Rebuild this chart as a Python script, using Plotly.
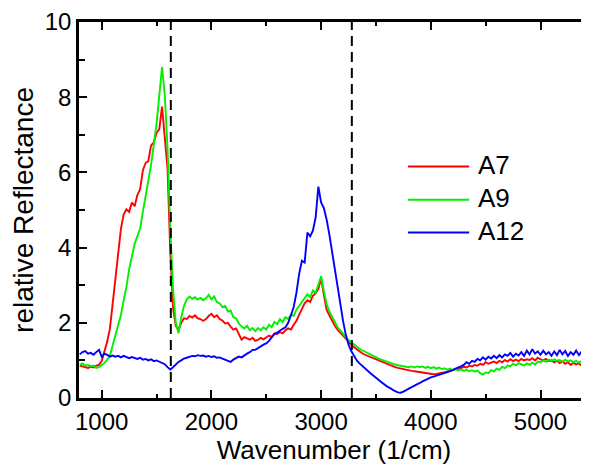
import plotly.graph_objects as go

# Sampling grid of the spectra (cm^-1)
wavenumber = list(range(800, 5451, 25))

a7 = [
    0.86, 0.84, 0.82, 0.80, 0.83, 0.81, 0.86, 0.88,
    0.98, 1.22, 1.50, 1.85, 2.55, 3.20, 3.95, 4.50,
    4.88, 5.02, 4.95, 5.20, 5.10, 5.40, 5.55, 6.05,
    6.25, 6.30, 6.72, 6.80, 7.05, 7.15, 7.75, 7.00,
    6.10, 3.90, 2.40, 1.92, 1.82, 2.00, 2.12, 2.10,
    2.18, 2.14, 2.20, 2.12, 2.10, 2.05, 2.10, 2.18,
    2.24, 2.15, 2.20, 2.10, 2.06, 1.98, 2.00, 1.90,
    1.82, 1.85, 1.70, 1.55, 1.62, 1.58, 1.55, 1.60,
    1.52, 1.55, 1.60, 1.56, 1.62, 1.66, 1.62, 1.72,
    1.70, 1.75, 1.72, 1.80, 1.85, 1.82, 1.95, 2.05,
    2.22, 2.35, 2.52, 2.60, 2.55, 2.72, 2.78, 2.90,
    3.18, 2.75, 2.35, 2.20, 2.05, 1.92, 1.82, 1.74,
    1.65, 1.56, 1.48, 1.42, 1.35, 1.29, 1.24, 1.19,
    1.15, 1.12, 1.08, 1.04, 1.01, 0.98, 0.95, 0.92,
    0.89, 0.87, 0.84, 0.82, 0.80, 0.78, 0.76, 0.75,
    0.73, 0.72, 0.71, 0.70, 0.68, 0.67, 0.66, 0.65,
    0.64, 0.63, 0.64, 0.65, 0.66, 0.68, 0.70, 0.72,
    0.74, 0.77, 0.76, 0.80, 0.83, 0.81, 0.86, 0.84,
    0.88, 0.86, 0.91, 0.88, 0.95, 0.91, 0.94, 0.97,
    0.93, 0.99, 0.95, 1.01, 0.97, 1.03, 0.98, 1.02,
    0.98, 1.04, 1.00, 1.03, 1.01, 1.06, 1.00, 1.07,
    1.03, 1.00, 1.04, 0.98, 1.00, 0.95, 0.99, 0.93,
    0.97, 0.91, 0.95, 0.88, 0.94, 0.89, 0.92, 0.86,
    0.91, 0.87, 0.90,
]

a9 = [
    0.89, 0.92, 0.86, 0.88, 0.84, 0.86, 0.80, 0.82,
    0.88, 0.93, 1.02, 1.12, 1.40, 1.68, 1.92, 2.20,
    2.60, 2.95, 3.42, 3.80, 4.10, 4.30, 4.50, 4.95,
    5.35, 5.85, 6.20, 6.75, 7.30, 8.05, 8.80, 8.05,
    6.65, 4.50, 2.90, 2.00, 1.72, 2.15, 2.45, 2.62,
    2.70, 2.64, 2.68, 2.62, 2.66, 2.60, 2.65, 2.74,
    2.62, 2.70, 2.55, 2.52, 2.42, 2.45, 2.30, 2.33,
    2.15, 2.12, 1.98, 1.90, 1.85, 1.92, 1.80, 1.86,
    1.78, 1.86, 1.80, 1.88, 1.82, 1.95, 1.88, 2.02,
    1.96, 2.10, 2.02, 2.15, 2.10, 2.22, 2.18, 2.35,
    2.45, 2.55, 2.68, 2.76, 2.68, 2.86, 2.80, 3.05,
    3.24, 2.85, 2.50, 2.30, 2.15, 2.00, 1.88, 1.80,
    1.70, 1.62, 1.54, 1.48, 1.42, 1.36, 1.31, 1.27,
    1.23, 1.20, 1.16, 1.12, 1.09, 1.05, 1.02, 0.99,
    0.96, 0.94, 0.91, 0.89, 0.87, 0.85, 0.84, 0.83,
    0.82, 0.84, 0.81, 0.84, 0.82, 0.84, 0.80, 0.83,
    0.79, 0.82, 0.78, 0.81, 0.77, 0.79, 0.75, 0.78,
    0.74, 0.77, 0.73, 0.76, 0.72, 0.75, 0.71, 0.74,
    0.70, 0.73, 0.66, 0.62, 0.68, 0.66, 0.74, 0.71,
    0.78, 0.75, 0.83, 0.79, 0.87, 0.84, 0.91, 0.87,
    0.93, 0.89, 0.86, 0.92, 0.88, 0.94, 0.89, 0.97,
    0.95, 1.00, 0.96, 1.02, 0.98, 1.03, 0.99, 1.01,
    0.96, 1.02, 0.97, 1.00, 0.95, 0.99, 0.94, 0.98,
    0.95, 0.99, 0.96,
]

a12 = [
    1.16, 1.22, 1.25, 1.18, 1.20, 1.15, 1.22, 1.28,
    1.10, 1.18, 1.15, 1.10, 1.13, 1.10, 1.12, 1.08,
    1.12, 1.10, 1.06, 1.09, 1.07, 1.04, 1.07, 1.02,
    1.04, 1.00, 1.03, 0.98, 1.00, 0.96, 0.94, 0.90,
    0.82, 0.76, 0.82, 0.90, 0.96, 1.00, 1.05, 1.07,
    1.10, 1.12, 1.11, 1.14, 1.12, 1.13, 1.10, 1.12,
    1.09, 1.11, 1.07, 1.08, 1.05, 1.02, 1.00, 0.96,
    1.02, 1.05, 1.10, 1.08, 1.14, 1.18, 1.22, 1.28,
    1.28, 1.33, 1.38, 1.42, 1.45, 1.52, 1.62, 1.70,
    1.74, 1.80, 1.84, 1.88, 2.00, 2.20, 2.42, 2.80,
    3.30, 3.65, 3.60, 4.40, 4.30, 4.45, 4.80, 5.62,
    5.20, 5.05, 4.75, 4.35, 3.90, 3.40, 2.90, 2.45,
    2.05, 1.68, 1.42, 1.25, 1.12, 1.00, 0.92, 0.85,
    0.78, 0.72, 0.66, 0.60, 0.55, 0.48, 0.42, 0.36,
    0.31, 0.27, 0.22, 0.18, 0.15, 0.14, 0.17, 0.20,
    0.25, 0.29, 0.32, 0.36, 0.40, 0.44, 0.48, 0.52,
    0.55, 0.57, 0.60, 0.62, 0.64, 0.66, 0.68, 0.71,
    0.74, 0.78, 0.80, 0.84, 0.88, 0.95, 0.91, 0.99,
    0.96, 1.04, 1.00, 1.08, 1.02, 1.10, 1.05, 1.12,
    1.06, 1.14, 1.08, 1.16, 1.12, 1.20, 1.10, 1.18,
    1.13, 1.22, 1.12, 1.26, 1.16, 1.30, 1.18, 1.24,
    1.15, 1.26, 1.16, 1.22, 1.12, 1.24, 1.14, 1.28,
    1.16, 1.25, 1.12, 1.22, 1.15, 1.26, 1.14, 1.24,
    1.18, 1.38, 1.30,
]

series_names = ["A7", "A9", "A12"]
series_colors = ["#ff0000", "#00f000", "#0000ff"]
marker_wavenumbers = [1630, 3280]
x_tick_values = [1000, 2000, 3000, 4000, 5000]
y_tick_values = [0, 2, 4, 6, 8, 10]

FONT = "Arial, 'Liberation Sans', sans-serif"

fig = go.Figure()
for name, color, vals in zip(series_names, series_colors, [a7, a9, a12]):
    fig.add_trace(go.Scatter(x=wavenumber, y=vals, mode="lines", name=name,
                             line=dict(color=color, width=1.9), showlegend=False))

for xv in marker_wavenumbers:
    fig.add_shape(type="line", xref="x", yref="paper", x0=xv, x1=xv, y0=0, y1=1,
                  line=dict(color="black", width=2, dash="10px,6px"))

# manual legend (long line samples like the original)
leg_y = [0.616, 0.527, 0.440]
for name, color, yy in zip(series_names, series_colors, leg_y):
    fig.add_shape(type="line", xref="paper", yref="paper", x0=0.645, x1=0.765,
                  y0=yy, y1=yy, line=dict(color=color, width=2))
    fig.add_annotation(xref="paper", yref="paper", x=0.778, y=yy + 0.004, text=name,
                       showarrow=False, xanchor="left", yanchor="middle",
                       font=dict(family=FONT, size=26, color="black"))

# the page body adds an 8px offset, so the figure is sized to end at the window edge
fig.update_layout(
    width=581, height=461,
    margin=dict(l=71, r=0, t=12, b=71),
    paper_bgcolor="white", plot_bgcolor="white",
    font=dict(family=FONT, color="black"),
    showlegend=False,
)
fig.update_xaxes(
    range=[793, 5442], showline=True, linewidth=2.5, linecolor="black", mirror="allticks",
    ticks="inside", ticklen=8, tickwidth=2, tickcolor="black",
    tickvals=x_tick_values, tickfont=dict(size=24, family=FONT),
    ticklabeloverflow="allow",
    minor=dict(dtick=500, tick0=0, ticks="inside", ticklen=4, tickwidth=2, tickcolor="black"),
    showgrid=False, zeroline=False,
    title=dict(text="Wavenumber (1/cm)", font=dict(size=26, family=FONT), standoff=4),
)
fig.update_yaxes(
    range=[0, 10], showline=True, linewidth=2.5, linecolor="black", mirror=False,
    ticks="inside", ticklen=8, tickwidth=2, tickcolor="black",
    tickvals=y_tick_values, tickfont=dict(size=24, family=FONT),
    ticklabeloverflow="allow",
    minor=dict(dtick=1, tick0=0, ticks="inside", ticklen=6, tickwidth=2, tickcolor="black"),
    showgrid=False, zeroline=False,
    title=dict(text="relative Reflectance", font=dict(size=28, family=FONT), standoff=3),
)

fig.write_html("out.html")
